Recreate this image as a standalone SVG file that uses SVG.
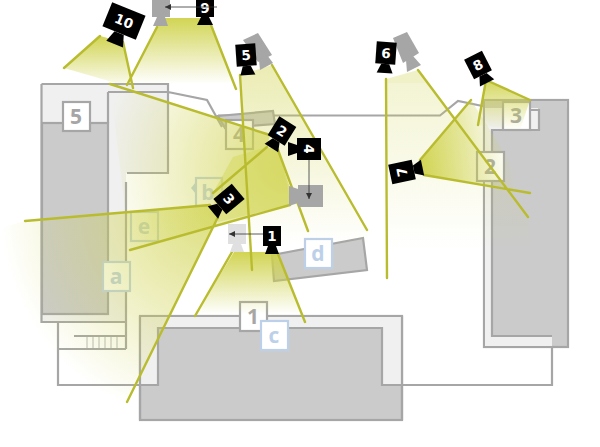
<svg xmlns="http://www.w3.org/2000/svg" width="600" height="447" viewBox="0 0 600 447">
<style>
.w{fill:none;stroke:#a6a6a6;stroke-width:2.2}
.g{fill:#cbcbcb;stroke:#a6a6a6;stroke-width:2.2}
.l{fill:#f0f0f0}
.bl{fill:#fff;stroke:#a6a6a6;stroke-width:2.2}
.bb{fill:#fff;stroke:#bdd0e9;stroke-width:2.2}
.t{font:bold 21px "Open Sans","DejaVu Sans",sans-serif;text-anchor:middle;fill:#a6a6a6}
.tb{fill:#bdd0e9}
.e{fill:none;stroke:#b9bc2f;stroke-width:2.4;stroke-linecap:round}
.k{fill:#000}
.c{fill:#a6a6a6}
.n{font:bold 13.500px "DejaVu Sans",sans-serif;text-anchor:middle;fill:#fff}
.a{stroke:#333;stroke-width:.8;fill:none;marker-end:url(#ar)}
</style>
<defs>
<marker id="ar" markerUnits="userSpaceOnUse" markerWidth="7" markerHeight="6" refX="6" refY="3" orient="auto"><path d="M0 0L6 3L0 6Z" fill="#333"/></marker>
<linearGradient id="g9" gradientUnits="userSpaceOnUse" x1="0" y1="18" x2="0" y2="84"><stop offset="0" stop-color="#cfd24a" stop-opacity=".95"/><stop offset="1" stop-color="#cfd24a" stop-opacity="0"/></linearGradient>
<linearGradient id="g10" gradientUnits="userSpaceOnUse" x1="0" y1="36" x2="0" y2="90"><stop offset="0" stop-color="#cfd24a" stop-opacity=".95"/><stop offset="1" stop-color="#cfd24a" stop-opacity="0"/></linearGradient>
<linearGradient id="g5" gradientUnits="userSpaceOnUse" x1="0" y1="65" x2="0" y2="245"><stop offset="0" stop-color="#cfd24a" stop-opacity=".42"/><stop offset="1" stop-color="#cfd24a" stop-opacity="0"/></linearGradient>
<linearGradient id="g6" gradientUnits="userSpaceOnUse" x1="0" y1="83" x2="0" y2="250"><stop offset="0" stop-color="#cfd24a" stop-opacity=".24"/><stop offset="1" stop-color="#cfd24a" stop-opacity="0"/></linearGradient>
<linearGradient id="g7" gradientUnits="userSpaceOnUse" x1="420" y1="165" x2="510" y2="150"><stop offset="0" stop-color="#cfd24a" stop-opacity=".95"/><stop offset="1" stop-color="#cfd24a" stop-opacity="0"/></linearGradient>
<linearGradient id="g8" gradientUnits="userSpaceOnUse" x1="490" y1="80" x2="490" y2="130"><stop offset="0" stop-color="#cfd24a" stop-opacity=".9"/><stop offset="1" stop-color="#cfd24a" stop-opacity="0"/></linearGradient>
<linearGradient id="g1" gradientUnits="userSpaceOnUse" x1="0" y1="252" x2="0" y2="314"><stop offset="0" stop-color="#cfd24a" stop-opacity=".95"/><stop offset="1" stop-color="#cfd24a" stop-opacity="0"/></linearGradient>
<radialGradient id="g3" gradientUnits="userSpaceOnUse" cx="215" cy="210" r="215"><stop offset="0" stop-color="#cfd24a" stop-opacity=".72"/><stop offset="1" stop-color="#cfd24a" stop-opacity="0"/></radialGradient>
<radialGradient id="g4" gradientUnits="userSpaceOnUse" cx="285" cy="170" r="185"><stop offset="0" stop-color="#cfd24a" stop-opacity=".75"/><stop offset="1" stop-color="#cfd24a" stop-opacity="0"/></radialGradient>
</defs>

<g id="plan">
<rect class="l" x="41" y="84" width="127" height="89"/>
<rect class="l" x="108" y="173" width="18" height="149"/>
<rect class="l" x="41" y="314" width="85" height="8"/>
<rect class="g" x="42" y="123" width="66" height="191"/>
<path class="w" d="M41.500 84H168V173H127M41.500 84V322H126M108 92H168M108 92V123M126 182V349M58 322V385H158M58 349H126M74 336H126M168 92L207 100L222 127"/>
<path d="M87 337V349M93 337V349M99 337V349M105 337V349M111 337V349M117 337V349" stroke="#a6a6a6" stroke-width=".8" fill="none"/>
<path class="w" d="M218 115.500H440L458 101L492 108H503"/>
<polygon class="g" points="218,116 273,111 275,124 225,128"/>
<polygon class="g" points="272,255 363,238 367,270 274,281"/>
<rect class="g" x="140" y="316" width="262" height="104"/>
<path class="l" d="M141 317H401V384H383V328H158V384H141Z"/>
<path class="w" d="M58 385H158V328H382V385H552V336M140 316V420M402 316V420"/>
<rect class="g" x="484" y="100" width="84" height="247"/>
<path class="l" d="M485 108H538V130H492V336H552V346H485Z"/>
<path class="w" d="M503 110H539V130H492V336H552"/>
<rect fill="#cbcbcb" x="485" y="101" width="82" height="7"/>
</g>

<g id="label-5"><rect class="bl" x="63" y="102" width="27" height="29"/><text class="t" x="76" y="124">5</text></g>
<g id="label-1"><rect class="bl" x="240" y="302" width="27" height="29"/><text class="t" x="253" y="324">1</text></g>
<g id="label-d"><rect class="bb" x="305" y="239" width="27" height="29"/><text class="t tb" x="318" y="261">d</text></g>
<g id="label-a"><rect class="bb" x="103" y="262" width="27" height="29"/><text class="t tb" x="116" y="284">a</text></g>
<g id="label-e"><rect class="bb" x="131" y="212" width="27" height="29"/><text class="t tb" x="144" y="234">e</text></g>
<g id="label-b"><path d="M196 182L191 188L196 194Z" fill="#bdd0e9"/><rect class="bb" x="196" y="178" width="26" height="28"/><text class="t tb" x="208" y="200">b</text></g>
<g id="label-4"><rect class="bl" x="226" y="120" width="27" height="29"/><text class="t" x="239" y="142">4</text></g>
<g id="label-3"><rect class="bl" x="503" y="102" width="27" height="28"/><text class="t" x="516" y="123">3</text></g>
<g id="label-2"><rect class="bl" x="477" y="152" width="27" height="29"/><text class="t" x="490" y="174">2</text></g>

<g id="beams">
<polygon fill="url(#g9)" points="165,18 205,18 211,25 236,89 127,85 157,27"/>
<polygon fill="url(#g10)" points="100,36 123,42 133,88 64,68"/>
<polygon fill="url(#g5)" points="240,75 272,65 367,230 367,245 252,270"/>
<polygon fill="#cfd24a" fill-opacity=".3" points="386,79 418,70 428,83 386,83"/>
<polygon fill="url(#g6)" points="386,83 428,83 528,217 530,250 387,278"/>
<polygon fill="url(#g7)" points="420,160 471,100 530,193 424,175"/>
<polygon fill="url(#g8)" points="486,80 530,100 520,130 478,125"/>
<polygon fill="url(#g1)" points="234,252 278,252 305,322 195,316"/>
<polygon fill="url(#g3)" points="210,205 25,221 0,228 0,410 127,402 218,217"/>
<polygon fill="url(#g4)" points="270,135 110,84 130,250 290,205 290,188 278,150 267,147"/>
<polygon fill="#d4d75a" fill-opacity=".5" points="233,157 267,147 278,150 288,188 290,205 218,222 213,193"/>
</g>

<g id="label-c"><rect class="bb" x="261" y="321" width="27" height="29"/><text class="t tb" x="274" y="343">c</text></g>

<g id="connectors">
<path class="e" d="M157 27L127 85M211 25L236 89M100 36L64 68M123 42L133 88M240 75L252 270M272 65L367 230M386 79L387 278M418 70L528 217M420 160L471 100M424 175L530 193M486 80L478 125M486 80L530 100M232 252L195 316M278 254L305 322M210 205L25 221M218 217L127 402M290 205L130 250M270 135L110 84M267 147L213 193M278 150L308 231"/>
</g>

<g id="ghost-9"><rect class="c" x="152" y="0" width="18" height="17"/><path class="c" d="M157 17H165L168 26H153Z"/></g>
<g id="ghost-5"><polygon class="c" points="243,40 258,33 272,55 258,62"/><polygon class="c" points="259,60 267,55 273,63 260,70"/></g>
<g id="ghost-6"><polygon class="c" points="393,38 407,32 419,53 403,63"/><polygon class="c" points="406,60 413,56 421,65 407,72"/></g>
<g id="ghost-4"><rect class="c" x="298" y="185" width="25" height="22"/><path class="c" d="M298 189V203L289 206V186Z"/></g>
<g id="ghost-1"><rect x="228" y="224" width="18" height="20" fill="#e0e0e0"/><path d="M233 244H241L244 252H230Z" fill="#e0e0e0"/></g>

<g id="cam-10" transform="translate(124 21) rotate(22)"><rect class="k" x="-18" y="-13" width="36" height="26"/><path class="k" d="M-5 13H5L9 25H-9Z"/><text class="n" y="5">10</text></g>
<g id="cam-9" transform="translate(205 8)"><rect class="k" x="-9" y="-9" width="18" height="18"/><path class="k" d="M-4 9H4L8 17H-8Z"/><text class="n" y="5">9</text></g>
<g id="cam-5" transform="translate(246 55) rotate(-4)"><rect class="k" x="-10" y="-11" width="20" height="22"/><path class="k" d="M-4 11H4L8 20H-7Z"/><text class="n" y="5">5</text></g>
<g id="cam-6" transform="translate(386 53) rotate(4)"><rect class="k" x="-10" y="-11" width="20" height="22"/><path class="k" d="M-4 11H4L8 20H-8Z"/><text class="n" y="5">6</text></g>
<g id="cam-8" transform="translate(478 65) rotate(-27)"><rect class="k" x="-10" y="-11" width="20" height="22"/><path class="k" d="M-4 11H4L8 20H-8Z"/><text class="n" y="5">8</text></g>
<g id="cam-7" transform="translate(402 172) rotate(-102)"><rect class="k" x="-10" y="-12" width="20" height="24"/><path class="k" d="M-4 12H4L8 21H-8Z"/><text class="n" y="5">7</text></g>
<g id="cam-2" transform="translate(282 131) rotate(32)"><rect class="k" x="-10" y="-11" width="20" height="22"/><path class="k" d="M-4 11H4L8 20H-8Z"/><text class="n" y="5">2</text></g>
<g id="cam-4" transform="translate(309 149) rotate(90)"><rect class="k" x="-11" y="-12" width="22" height="24"/><path class="k" d="M-4 12H4L7 21H-7Z"/><text class="n" y="5">4</text></g>
<g id="cam-3" transform="translate(229 199) rotate(50)"><rect class="k" x="-10" y="-12" width="20" height="24"/><path class="k" d="M-4 12H4L8 21H-8Z"/><text class="n" y="5">3</text></g>
<g id="cam-1" transform="translate(272 236)"><rect class="k" x="-9" y="-10" width="18" height="20"/><path class="k" d="M-4 10H4L7 18H-7Z"/><text class="n" y="5">1</text></g>

<g id="arrows">
<path class="a" d="M217 7H165"/>
<path class="a" d="M309 160V199"/>
<path class="a" d="M263 234H229"/>
</g>
</svg>
